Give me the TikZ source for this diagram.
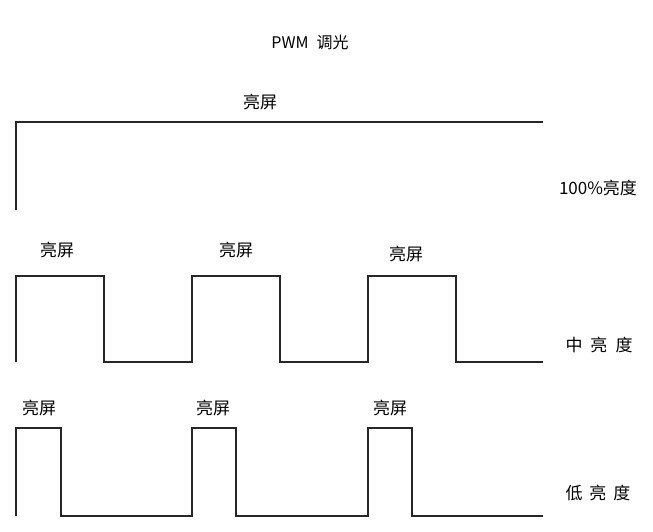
\documentclass[tikz,border=0pt]{standalone}
\usepackage{fontspec}
\setmainfont{Noto Sans CJK SC}
\begin{document}
\begin{tikzpicture}[x=1pt,y=-1pt,
  wave/.style={line width=1.8pt, draw=black!85, line join=miter},
  lbl/.style={font=\fontsize{17}{17}\selectfont, inner sep=0pt},
  ttl/.style={font=\fontsize{16}{16}\selectfont, inner sep=0pt}]
\useasboundingbox (0,0) rectangle (653,532);
\node[ttl] (title) at (310,42) {PWM\hspace{8pt}调光};
% 100%
\node[lbl] (l0) at (260,102) {亮屏};
\draw[wave] (16,210) -- (16,122) -- (543,122);
\node[lbl] (b0) at (598,188) {100\%亮度};
% middle
\node[lbl] (m1) at (57,250) {亮屏};
\node[lbl] (m2) at (236,250) {亮屏};
\node[lbl] (m3) at (406,254) {亮屏};
\draw[wave] (16,362) -- (16,276) -- (104,276) -- (104,362) -- (192,362) -- (192,276)
  -- (280,276) -- (280,362) -- (368,362) -- (368,276) -- (456,276) -- (456,362) -- (543,362);
\node[lbl] (b1) at (599,345) {中\hspace{8pt}亮\hspace{8pt}度};
% low
\node[lbl] (s1) at (39,408) {亮屏};
\node[lbl] (s2) at (213,408) {亮屏};
\node[lbl] (s3) at (390,408) {亮屏};
\draw[wave] (16,516) -- (16,428) -- (61,428) -- (61,516) -- (192,516) -- (192,428)
  -- (236,428) -- (236,516) -- (368,516) -- (368,428) -- (412,428) -- (412,516) -- (543,516);
\node[lbl] (b2) at (598,493) {低\hspace{7pt}亮\hspace{7pt}度};
\end{tikzpicture}
\end{document}
